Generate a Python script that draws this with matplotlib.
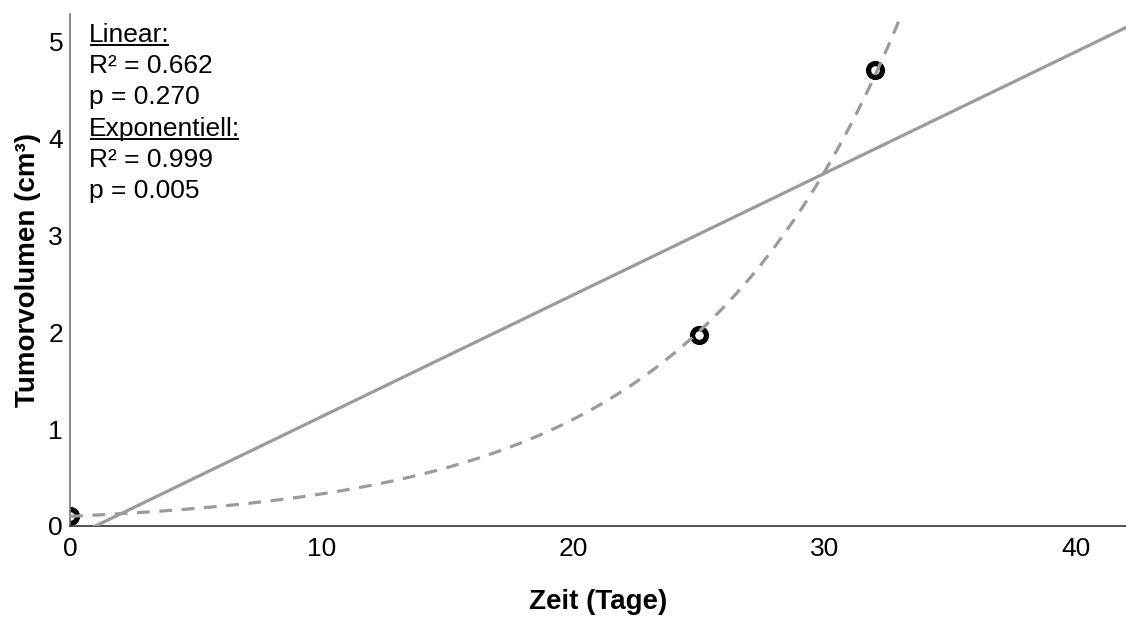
import matplotlib
matplotlib.use("Agg")
import matplotlib.pyplot as plt
from matplotlib.lines import Line2D
import numpy as np

plt.rcParams['font.family'] = ['Liberation Sans', 'DejaVu Sans']

# measured tumour volume
tage = np.array([0, 25, 32])
volumen = np.array([0.10, 1.97, 4.70])

# annotation text
text_zeilen = ["Linear:", "R² = 0.662", "p = 0.270",
               "Exponentiell:", "R² = 0.999", "p = 0.005"]
unterstrichen = [True, False, False, True, False, False]

x_ticks = [0, 10, 20, 30, 40]
y_ticks = [0, 1, 2, 3, 4, 5]

# fits
lin = np.polyfit(tage, volumen, 1)
log_fit = np.polyfit(tage, np.log(volumen), 1)

grau = '#9b9b9b'

fig = plt.figure(figsize=(11.26, 6.17), dpi=100)
ax = fig.add_axes([0.0622, 0.1475, 0.9378, 0.8295])

xs = np.linspace(0, 42, 400)
ax.plot(xs, np.polyval(lin, xs), color=grau, lw=2.3, zorder=3)
ax.plot(xs, np.exp(np.polyval(log_fit, xs)), color=grau, lw=2.3,
        ls=(0, (4, 3)), zorder=3)

ax.plot(tage, volumen, 'o', ms=10, mfc='white', mec='black', mew=3.8, zorder=2)

ax.set_xlim(0, 42)
ax.set_ylim(0, 5.28)
ax.set_xticks(x_ticks)
ax.set_yticks(y_ticks)
ax.tick_params(axis='both', length=0, labelsize=19)
ax.tick_params(axis='x', pad=8)
ax.tick_params(axis='y', pad=5)

for s in ['top', 'right']:
    ax.spines[s].set_visible(False)
ax.spines['bottom'].set_color('#333333')
ax.spines['left'].set_color('#777777')
ax.spines['bottom'].set_linewidth(1.2)
ax.spines['left'].set_linewidth(1.2)

ax.set_xlabel("Zeit (Tage)", fontsize=20, fontweight='bold', labelpad=20)
ax.set_ylabel("Tumorvolumen (cm³)", fontsize=20, fontweight='bold', labelpad=5)

# text block top left, with underlined headings
fig.canvas.draw()
renderer = fig.canvas.get_renderer()
y0 = 1 - 35 / 617
dy = 31.2 / 617
for i, (zeile, ul) in enumerate(zip(text_zeilen, unterstrichen)):
    t = fig.text(89 / 1126, y0 - i * dy, zeile, fontsize=19, va='center', ha='left')
    if ul:
        bb = t.get_window_extent(renderer).transformed(fig.transFigure.inverted())
        yl = bb.y0 + 2.0 / 617
        fig.add_artist(Line2D([bb.x0 + 2 / 1126, bb.x1 - 2 / 1126], [yl, yl],
                              color='black', lw=1.4, transform=fig.transFigure))

fig.savefig("out.png", dpi=100)
